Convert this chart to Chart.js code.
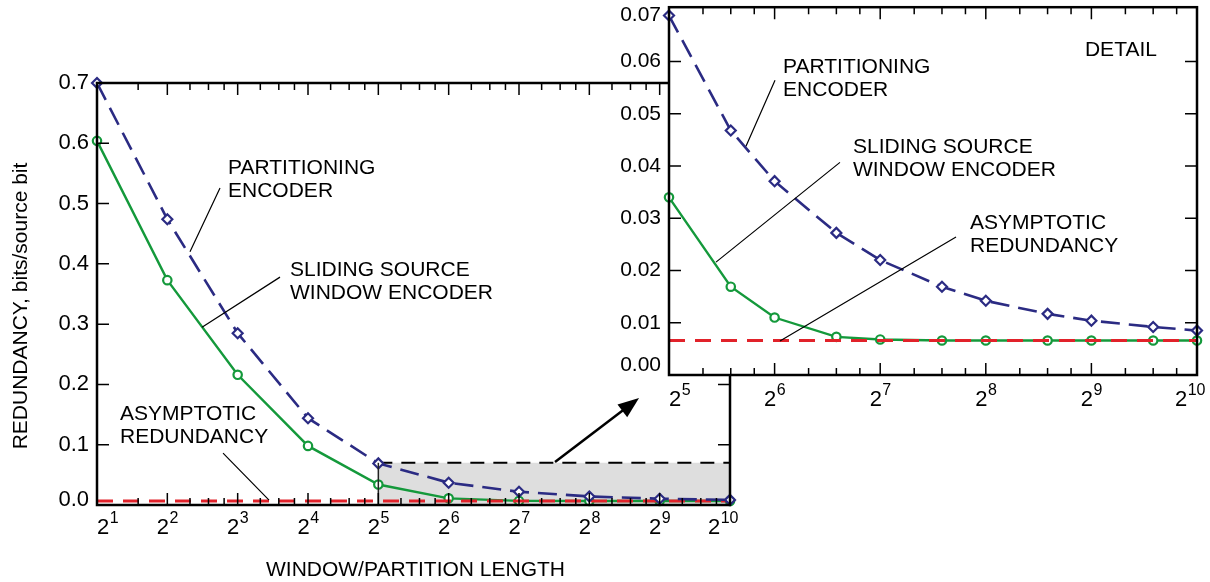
<!DOCTYPE html>
<html>
<head>
<meta charset="utf-8">
<script src="https://cdn.jsdelivr.net/npm/chart.js@4.4.1/dist/chart.umd.min.js"></script>
<style>
  body { margin: 0; background: #fff; }
  #wrap { position: relative; width: 1210px; height: 582px; }
  #wrap canvas { position: absolute; left: 0; top: 0; }
</style>
</head>
<body>
<div id="wrap">
  <canvas id="mainChart" width="1210" height="582"></canvas>
  <canvas id="detailChart" width="1210" height="582"></canvas>
</div>
<script>
// main panel: window / partition length and redundancy (bits/source bit)
const lengths = [2, 4, 8, 16, 32, 64, 128, 256, 512, 1024];
const partitioning = [0.700, 0.474, 0.285, 0.144, 0.069, 0.037, 0.022, 0.0142, 0.0104, 0.0085];
const sliding = [0.604, 0.373, 0.216, 0.098, 0.034, 0.011, 0.0068, 0.0066, 0.0066, 0.0066];
const asymptotic = 0.0066;

// detail panel
const detailLengths = [32, 48, 64, 96, 128, 192, 256, 384, 512, 768, 1024];
const detailPartitioning = [0.0688, 0.0468, 0.0371, 0.0272, 0.0220, 0.0169, 0.0142, 0.0117, 0.0104, 0.0092, 0.0085];
const detailSliding = [0.0340, 0.0169, 0.0110, 0.0073, 0.0068, 0.0066, 0.0066, 0.0066, 0.0066, 0.0066, 0.0066];

// shaded region of the main panel that the detail panel enlarges
const detailBoxLengths = [32, 1024];
const detailBoxTop = 0.07;

// tick labels
const mainYTicks = ['0.0', '0.1', '0.2', '0.3', '0.4', '0.5', '0.6', '0.7'];
const detailYTicks = ['0.00', '0.01', '0.02', '0.03', '0.04', '0.05', '0.06', '0.07'];
const mainExponents = [1, 2, 3, 4, 5, 6, 7, 8, 9, 10];
const detailExponents = [5, 6, 7, 8, 9, 10];

const BLUE = '#2b2b83';
const GREEN = '#14993b';
const RED = '#e1222a';
const FONT = '21px "Liberation Sans", Arial, sans-serif';
const TICK_FONT = '22px "Liberation Sans", Arial, sans-serif';
const SUP_FONT = '16px "Liberation Sans", Arial, sans-serif';

function pts(xs, ys) {
  return xs.map((n, i) => ({ x: Math.log2(n), y: Array.isArray(ys) ? ys[i] : ys }));
}

function drawFrame(chart, o) {
  const { ctx, chartArea: a, scales: { x, y } } = chart;
  ctx.save();
  ctx.strokeStyle = '#000';
  ctx.lineWidth = 1.5;
  ctx.beginPath();
  const xs = o.exponents;
  for (let i = 0; i < xs.length; i++) {
    const p = xs[i];
    if (i > 0 && i < xs.length - 1) {
      const px = x.getPixelForValue(p);
      ctx.moveTo(px, a.bottom); ctx.lineTo(px, a.bottom - 12);
      ctx.moveTo(px, a.top); ctx.lineTo(px, a.top + 12);
    }
    if (i < xs.length - 1) {
      const mult = Math.pow(2, p) === 2 ? [1.5] : [1.25, 1.5, 1.75];
      mult.forEach(m => {
        const px = x.getPixelForValue(p + Math.log2(m));
        ctx.moveTo(px, a.bottom); ctx.lineTo(px, a.bottom - 7);
        ctx.moveTo(px, a.top); ctx.lineTo(px, a.top + 7);
      });
    }
  }
  o.yTicks.forEach((t, i) => {
    const py = y.getPixelForValue(parseFloat(t));
    if (i > 0 && i < o.yTicks.length - 1) {
      ctx.moveTo(a.left, py); ctx.lineTo(a.left + 12, py);
      ctx.moveTo(a.right, py); ctx.lineTo(a.right - 12, py);
    }
  });
  ctx.stroke();
  ctx.lineWidth = 2.5;
  ctx.strokeRect(a.left, a.top, a.right - a.left, a.bottom - a.top);

  // y tick labels
  ctx.fillStyle = '#000';
  ctx.font = o.yFont;
  ctx.textAlign = 'right';
  ctx.textBaseline = 'middle';
  o.yTicks.forEach((t, i) => {
    let py = y.getPixelForValue(parseFloat(t));
    if (i === 0) py -= o.bottomLift;
    if (i === o.yTicks.length - 1) py = Math.max(py, a.top + o.topDrop);
    ctx.fillText(t, a.left - 8, py);
  });

  // x tick labels 2^n
  ctx.textAlign = 'left';
  ctx.textBaseline = 'alphabetic';
  xs.forEach(p => {
    const exp = String(p);
    ctx.font = TICK_FONT;
    const wb = ctx.measureText('2').width;
    ctx.font = SUP_FONT;
    const we = ctx.measureText(exp).width;
    const px = x.getPixelForValue(p);
    let left = px - (wb + we) / 2;
    left = Math.max(left, a.left);
    left = Math.min(left, a.right + 8 - wb - we);
    const base = a.bottom + o.labelGap;
    ctx.font = TICK_FONT;
    ctx.fillText('2', left, base);
    ctx.font = SUP_FONT;
    ctx.fillText(exp, left + wb + 0.5, base - 11);
  });

  // notes and leader lines, placed in data coordinates
  ctx.font = FONT;
  ctx.textBaseline = 'middle';
  o.notes.forEach(n => {
    const nx = x.getPixelForValue(n.x), ny = y.getPixelForValue(n.y);
    n.lines.forEach((s, k) => ctx.fillText(s, nx, ny + k * 23));
  });
  ctx.lineWidth = 1.2;
  ctx.beginPath();
  o.leaders.forEach(l => {
    ctx.moveTo(x.getPixelForValue(l[0]), y.getPixelForValue(l[1]));
    ctx.lineTo(x.getPixelForValue(l[2]), y.getPixelForValue(l[3]));
  });
  ctx.stroke();
  ctx.restore();
}

const mainFrame = {
  id: 'mainFrame',
  afterDatasetsDraw(chart) {
    const { ctx, chartArea: a, scales: { x, y } } = chart;
    // solid left edge of the shaded detail box
    ctx.save();
    ctx.strokeStyle = '#222';
    ctx.lineWidth = 1.5;
    const bx = x.getPixelForValue(Math.log2(detailBoxLengths[0]));
    ctx.beginPath();
    ctx.moveTo(bx, y.getPixelForValue(detailBoxTop));
    ctx.lineTo(bx, y.getPixelForValue(0));
    ctx.stroke();
    ctx.restore();

    drawFrame(chart, {
      exponents: mainExponents, yTicks: mainYTicks, yFont: TICK_FONT,
      bottomLift: 5, topDrop: 0, labelGap: 29,
      notes: [
        { x: 2.863, y: 0.559, lines: ['PARTITIONING', 'ENCODER'] },
        { x: 3.744, y: 0.390, lines: ['SLIDING SOURCE', 'WINDOW ENCODER'] },
        { x: 1.327, y: 0.151, lines: ['ASYMPTOTIC', 'REDUNDANCY'] }
      ],
      leaders: [
        [2.749, 0.526, 2.322, 0.420],
        [3.602, 0.378, 2.493, 0.295],
        [2.792, 0.086, 3.446, 0.008]
      ]
    });

    // arrow towards the detail panel
    const x0 = x.getPixelForValue(7.512), y0 = y.getPixelForValue(0.0713);
    const x1 = x.getPixelForValue(8.707), y1 = y.getPixelForValue(0.1774);
    const ang = Math.atan2(y1 - y0, x1 - x0);
    ctx.save();
    ctx.strokeStyle = '#000';
    ctx.fillStyle = '#000';
    ctx.lineWidth = 2.5;
    ctx.beginPath();
    ctx.moveTo(x0, y0);
    ctx.lineTo(x1 - 14 * Math.cos(ang), y1 - 14 * Math.sin(ang));
    ctx.stroke();
    ctx.beginPath();
    ctx.moveTo(x1, y1);
    ctx.lineTo(x1 - 21 * Math.cos(ang) + 8 * Math.sin(ang), y1 - 21 * Math.sin(ang) - 8 * Math.cos(ang));
    ctx.lineTo(x1 - 21 * Math.cos(ang) - 8 * Math.sin(ang), y1 - 21 * Math.sin(ang) + 8 * Math.cos(ang));
    ctx.closePath();
    ctx.fill();

    // axis titles
    ctx.font = FONT;
    ctx.textAlign = 'center';
    ctx.textBaseline = 'middle';
    ctx.fillText('WINDOW/PARTITION LENGTH', (a.left + a.right) / 2 + 2, 570);
    ctx.translate(21, 306);
    ctx.rotate(-Math.PI / 2);
    ctx.fillText('REDUNDANCY, bits/source bit', 0, 0);
    ctx.restore();
  }
};

const detailFrame = {
  id: 'detailFrame',
  beforeDatasetsDraw(chart) {
    const { ctx, chartArea: a } = chart;
    ctx.save();
    ctx.fillStyle = '#fff';
    ctx.fillRect(a.left, a.top, a.right - a.left, a.bottom - a.top);
    ctx.restore();
  },
  afterDatasetsDraw(chart) {
    drawFrame(chart, {
      exponents: detailExponents, yTicks: detailYTicks, yFont: FONT,
      bottomLift: 10, topDrop: 8, labelGap: 31,
      notes: [
        { x: 8.939, y: 0.0621, lines: ['DETAIL'] },
        { x: 6.080, y: 0.0589, lines: ['PARTITIONING', 'ENCODER'] },
        { x: 6.742, y: 0.0436, lines: ['SLIDING SOURCE', 'WINDOW ENCODER'] },
        { x: 7.850, y: 0.0290, lines: ['ASYMPTOTIC', 'REDUNDANCY'] }
      ],
      leaders: [
        [6.004, 0.0564, 5.729, 0.0438],
        [6.619, 0.0407, 5.445, 0.0216],
        [7.718, 0.0264, 6.051, 0.0065]
      ]
    });
  }
};

function baseOptions(padding, xr, yr) {
  return {
    responsive: false,
    animation: false,
    events: [],
    layout: { padding: padding },
    plugins: { legend: { display: false }, tooltip: { enabled: false } },
    elements: { line: { tension: 0 } },
    scales: {
      x: { type: 'linear', min: xr[0], max: xr[1], display: false },
      y: { type: 'linear', min: yr[0], max: yr[1], display: false }
    }
  };
}

function seriesSets(xs, part, slide, asymRange) {
  return [
    {
      label: 'Partitioning encoder', data: pts(xs, part), order: 0, clip: 12,
      borderColor: BLUE, borderWidth: 2.6, borderDash: [19, 9],
      pointStyle: 'rectRot', pointRadius: 5, pointBorderWidth: 2.2,
      pointBackgroundColor: '#fff', pointBorderColor: BLUE
    },
    {
      label: 'Asymptotic redundancy', data: pts(asymRange, asymptotic), order: 1, clip: 12,
      borderColor: RED, borderWidth: 3, borderDash: [16, 10], pointRadius: 0
    },
    {
      label: 'Sliding source window encoder', data: pts(xs, slide), order: 2, clip: 12,
      borderColor: GREEN, borderWidth: 2.4,
      pointStyle: 'circle', pointRadius: 4.2, pointBorderWidth: 2.2,
      pointBackgroundColor: '#fff', pointBorderColor: GREEN
    }
  ];
}

const mainSets = seriesSets(lengths, partitioning, sliding, [lengths[0], lengths[lengths.length - 1]]);
mainSets.push({
  label: 'Detail region', data: pts(detailBoxLengths, detailBoxTop), order: 3,
  fill: 'origin', backgroundColor: '#dedede',
  borderColor: '#000', borderWidth: 2, borderDash: [14, 9], pointRadius: 0
});

new Chart(document.getElementById('mainChart'), {
  type: 'line',
  data: { datasets: mainSets },
  options: baseOptions({ left: 97, right: 480, top: 83, bottom: 77 }, [1, 10], [0, 0.7]),
  plugins: [mainFrame]
});

new Chart(document.getElementById('detailChart'), {
  type: 'line',
  data: { datasets: seriesSets(detailLengths, detailPartitioning, detailSliding, [detailLengths[0], detailLengths[detailLengths.length - 1]]) },
  options: baseOptions({ left: 669, right: 13, top: 7, bottom: 207 }, [5, 10], [0, 0.0704]),
  plugins: [detailFrame]
});
</script>
</body>
</html>
